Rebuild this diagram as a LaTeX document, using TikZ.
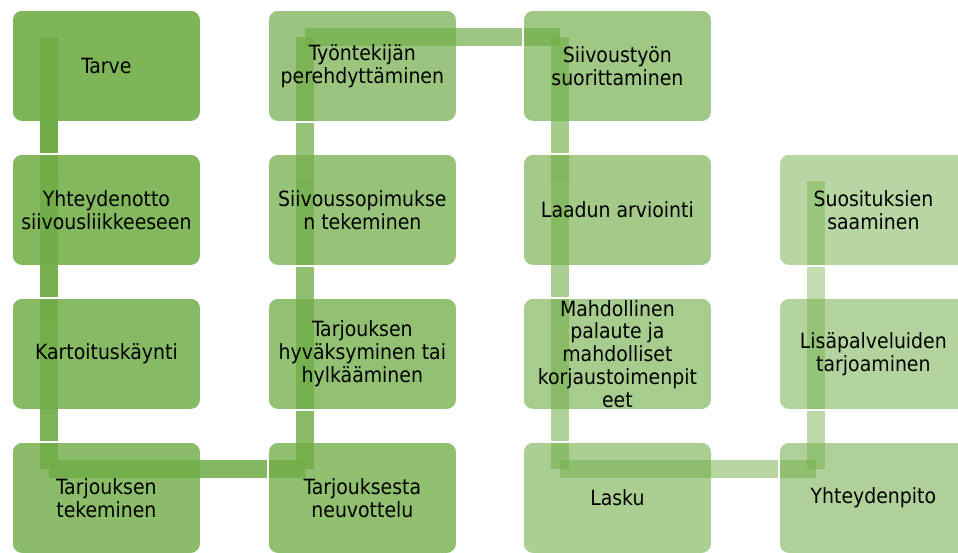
\documentclass[tikz,border=0pt]{standalone}
\usepackage{fontspec}
\setmainfont{DejaVu Sans Condensed}
\definecolor{G}{RGB}{112,173,71}
\begin{document}
\begin{tikzpicture}[x=1pt,y=-1pt,
  stepbox/.style={draw=white, line width=1.8pt, fill=G, rounded corners=10pt,
    minimum width=189pt, minimum height=112pt, anchor=north west,
    inner sep=0pt, draw opacity=1},
  steptext/.style={align=center, inner sep=0pt, text=black,
    font=\fontsize{21pt}{22.8pt}\selectfont},
  link/.style={draw=G, line width=18pt, line cap=butt}]
\useasboundingbox (0,0) rectangle (958,552);
% anchor points of the snake connector
\coordinate (p1) at (49,36.5);
\coordinate (p2) at (49,180.5);
\coordinate (p3) at (49,324.5);
\coordinate (p4) at (49,468.5);
\coordinate (p5) at (305,468.5);
\coordinate (p6) at (305,324.5);
\coordinate (p7) at (305,180.5);
\coordinate (p8) at (305,36.5);
\coordinate (p9) at (560,36.5);
\coordinate (p10) at (560,180.5);
\coordinate (p11) at (560,324.5);
\coordinate (p12) at (560,468.5);
\coordinate (p13) at (816,468.5);
\coordinate (p14) at (816,324.5);
\coordinate (p15) at (816,180.5);

\node[stepbox, fill opacity=0.900] (b1) at (11,9) {};
\draw[link, draw opacity=1.000] (p1) -- (p2);
\node[stepbox, fill opacity=0.871] (b2) at (11,153) {};
\draw[link, draw opacity=0.955] (p2) -- (p3);
\node[stepbox, fill opacity=0.843] (b3) at (11,297) {};
\draw[link, draw opacity=0.910] (p3) -- (p4);
\node[stepbox, fill opacity=0.814] (b4) at (11,441) {};
\draw[link, draw opacity=0.865] (p4) -- (p5);
\node[stepbox, fill opacity=0.786] (b5) at (267,441) {};
\draw[link, draw opacity=0.820] (p5) -- (p6);
\node[stepbox, fill opacity=0.757] (b6) at (267,297) {};
\draw[link, draw opacity=0.775] (p6) -- (p7);
\node[stepbox, fill opacity=0.729] (b7) at (267,153) {};
\draw[link, draw opacity=0.730] (p7) -- (p8);
\node[stepbox, fill opacity=0.700] (b8) at (267,9) {};
\draw[link, draw opacity=0.685] (p8) -- (p9);
\node[stepbox, fill opacity=0.671] (b9) at (522,9) {};
\draw[link, draw opacity=0.640] (p9) -- (p10);
\node[stepbox, fill opacity=0.643] (b10) at (522,153) {};
\draw[link, draw opacity=0.595] (p10) -- (p11);
\node[stepbox, fill opacity=0.614] (b11) at (522,297) {};
\draw[link, draw opacity=0.550] (p11) -- (p12);
\node[stepbox, fill opacity=0.586] (b12) at (522,441) {};
\draw[link, draw opacity=0.505] (p12) -- (p13);
\node[stepbox, fill opacity=0.557] (b13) at (778,441) {};
\draw[link, draw opacity=0.460] (p13) -- (p14);
\node[stepbox, fill opacity=0.529] (b14) at (778,297) {};
\draw[link, draw opacity=0.415] (p14) -- (p15);
\node[stepbox, fill opacity=0.500] (b15) at (778,153) {};

\node[steptext] (t1) at (b1.center) {Tarve};
\node[steptext] (t2) at (b2.center) {Yhteydenotto\\siivousliikkeeseen};
\node[steptext] (t3) at (b3.center) {Kartoituskäynti};
\node[steptext] (t4) at (b4.center) {Tarjouksen\\tekeminen};
\node[steptext] (t5) at (b5.center) {Tarjouksesta\\neuvottelu};
\node[steptext] (t6) at (b6.center) {Tarjouksen\\hyväksyminen tai\\hylkääminen};
\node[steptext] (t7) at (b7.center) {Siivoussopimukse\\n tekeminen};
\node[steptext] (t8) at (b8.center) {Työntekijän\\perehdyttäminen};
\node[steptext] (t9) at (b9.center) {Siivoustyön\\suorittaminen};
\node[steptext] (t10) at (b10.center) {Laadun arviointi};
\node[steptext] (t11) at (b11.center) {Mahdollinen\\palaute ja\\mahdolliset\\korjaustoimenpit\\eet};
\node[steptext] (t12) at (b12.center) {Lasku};
\node[steptext] (t13) at (b13.center) {Yhteydenpito};
\node[steptext] (t14) at (b14.center) {Lisäpalveluiden\\tarjoaminen};
\node[steptext] (t15) at (b15.center) {Suosituksien\\saaminen};
\end{tikzpicture}
\end{document}
